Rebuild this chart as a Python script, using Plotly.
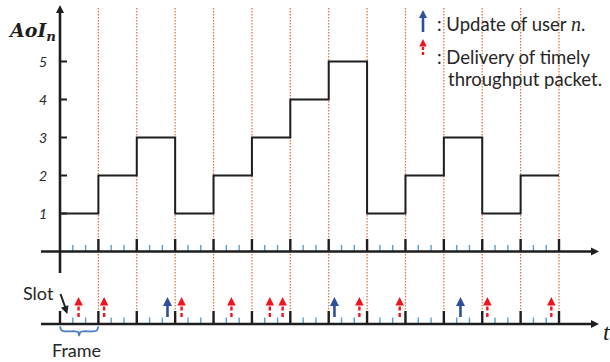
import plotly.graph_objects as go

# ---------------- data ----------------
aoi_per_frame = [1, 2, 3, 1, 2, 3, 4, 5, 1, 2, 3, 1, 2]      # AoI level in each frame
slots_per_frame = 3
update_slots = [8.4, 21.45, 31.3]                             # blue arrows (update of user n)
delivery_slots = [1.45, 3.45, 9.5, 13.4, 16.4, 17.4, 23.4, 26.55, 33.4, 38.4]  # red dashed arrows
y_tick_values = [1, 2, 3, 4, 5]
y_tick_labels = ["1", "2", "3", "4", "5"]

# ---------------- geometry helpers ----------------
W, H = 610, 362
X0_PX, SLOT_PX = 60.0, 12.795
Y0_PX, UNIT_PX = 251.5, 38.0


def sx(px):
    return (px - X0_PX) / SLOT_PX


def vy(py):
    return (Y0_PX - py) / UNIT_PX


n_frames = len(aoi_per_frame)
n_slots = n_frames * slots_per_frame
frame_edges = [k * slots_per_frame for k in range(n_frames + 1)]
LOW = vy(324)          # lower time axis
TXT = "#262626"
BLACK = "#1e1e1e"
RED = "#F0141E"
BLUE = "#2F4F9E"
TICKBLUE = "#5B9BD5"
ORANGE = "#E0703A"
FONT = "Lato"

fig = go.Figure()


def segs(pairs):
    xs, ys = [], []
    for (x1, y1), (x2, y2) in pairs:
        xs += [x1, x2, None]
        ys += [y1, y2, None]
    return xs, ys


# dotted frame boundaries
xs, ys = segs([((e, vy(8)), (e, LOW)) for e in frame_edges[1:]])
fig.add_trace(go.Scatter(x=xs, y=ys, mode="lines",
                         line=dict(color=ORANGE, width=1.2, dash="1.5px,1.5px"), hoverinfo="skip"))

# minor slot ticks (both axes)
minor = [s for s in range(1, n_slots) if s % slots_per_frame != 0]
pairs = []
for base in (0, LOW):
    pairs += [((s, base), (s, base + 6.5 / UNIT_PX)) for s in minor]
xs, ys = segs(pairs)
fig.add_trace(go.Scatter(x=xs, y=ys, mode="lines",
                         line=dict(color=TICKBLUE, width=1.4), hoverinfo="skip"))

# major frame ticks
pairs = [((e, 0), (e, 12.5 / UNIT_PX)) for e in frame_edges[1:]]
pairs += [((e, LOW), (e, LOW + 13 / UNIT_PX)) for e in frame_edges]
xs, ys = segs(pairs)
fig.add_trace(go.Scatter(x=xs, y=ys, mode="lines",
                         line=dict(color=BLACK, width=2.4), hoverinfo="skip"))

# y-axis ticks
pairs = [((0, v), (sx(67), v)) for v in y_tick_values]
xs, ys = segs(pairs)
fig.add_trace(go.Scatter(x=xs, y=ys, mode="lines",
                         line=dict(color=BLACK, width=2), hoverinfo="skip"))

# axes lines
xs, ys = segs([((0, vy(273)), (0, vy(11))),
               ((sx(41), 0), (sx(593), 0)),
               ((sx(41), LOW), (sx(593), LOW))])
fig.add_trace(go.Scatter(x=xs, y=ys, mode="lines",
                         line=dict(color=BLACK, width=2.6), hoverinfo="skip"))
fig.add_trace(go.Scatter(x=[0], y=[vy(5)], mode="markers",
                         marker=dict(symbol="arrow-up", size=8, color=BLACK, line=dict(width=0)),
                         hoverinfo="skip"))
fig.add_trace(go.Scatter(x=[sx(599), sx(599)], y=[0, LOW], mode="markers",
                         marker=dict(symbol="arrow-right", size=8, color=BLACK, line=dict(width=0)),
                         hoverinfo="skip"))

# AoI step curve
fig.add_trace(go.Scatter(x=frame_edges, y=aoi_per_frame + [aoi_per_frame[-1]],
                         mode="lines", line=dict(color=BLACK, width=2, shape="hv"),
                         hoverinfo="skip"))

# arrows on the lower axis
tip = LOW + (324 - 297) / UNIT_PX
head_base = LOW + (324 - 305) / UNIT_PX
tail = LOW + (324 - 317) / UNIT_PX

xs, ys = segs([((s, tail), (s, head_base + 0.02)) for s in delivery_slots])
fig.add_trace(go.Scatter(x=xs, y=ys, mode="lines",
                         line=dict(color=RED, width=2.4, dash="4px,2.5px"), hoverinfo="skip"))
fig.add_trace(go.Scatter(x=delivery_slots, y=[tip] * len(delivery_slots), mode="markers",
                         marker=dict(symbol="arrow-up", size=8.5, color=RED, line=dict(width=0)),
                         hoverinfo="skip"))

xs, ys = segs([((s, tail), (s, head_base + 0.02)) for s in update_slots])
fig.add_trace(go.Scatter(x=xs, y=ys, mode="lines",
                         line=dict(color=BLUE, width=2.6), hoverinfo="skip"))
fig.add_trace(go.Scatter(x=update_slots, y=[tip] * len(update_slots), mode="markers",
                         marker=dict(symbol="arrow-up", size=9, color=BLUE, line=dict(width=0)),
                         hoverinfo="skip"))

# legend arrows
lx = sx(423)
fig.add_trace(go.Scatter(x=[lx, lx], y=[vy(32), vy(17)], mode="lines",
                         line=dict(color=BLUE, width=2.6), hoverinfo="skip"))
fig.add_trace(go.Scatter(x=[lx], y=[vy(10)], mode="markers",
                         marker=dict(symbol="arrow-up", size=8, color=BLUE, line=dict(width=0)),
                         hoverinfo="skip"))
fig.add_trace(go.Scatter(x=[lx, lx], y=[vy(55), vy(46)], mode="lines",
                         line=dict(color=RED, width=2.4, dash="3px,2px"), hoverinfo="skip"))
fig.add_trace(go.Scatter(x=[lx], y=[vy(39)], mode="markers",
                         marker=dict(symbol="arrow-up", size=7.5, color=RED, line=dict(width=0)),
                         hoverinfo="skip"))

# pointer arrow for "Slot"
fig.add_trace(go.Scatter(x=[sx(60.5), sx(65.5)], y=[vy(294), vy(308)], mode="lines",
                         line=dict(color=BLACK, width=2), hoverinfo="skip"))
fig.add_trace(go.Scatter(x=[sx(67.3)], y=[vy(314)], mode="markers",
                         marker=dict(symbol="arrow-up", size=8, angle=161, color=BLACK,
                                     line=dict(width=0)),
                         hoverinfo="skip"))

# brace under the first frame
f0, f1 = frame_edges[0], frame_edges[1]
mid = (f0 + f1) / 2
bx = [f0, f0 + sx(61.5) - sx(60), f0 + sx(65) - sx(60), mid - (sx(64) - sx(60)),
      mid - (sx(61) - sx(60)), mid,
      mid + (sx(61) - sx(60)), mid + (sx(64) - sx(60)), f1 - (sx(65) - sx(60)),
      f1 - (sx(61.5) - sx(60)), f1]
by = [vy(326.5), vy(330.3), vy(331.3), vy(331.3), vy(332.2), vy(335.5),
      vy(332.2), vy(331.3), vy(331.3), vy(330.3), vy(326.5)]
fig.add_trace(go.Scatter(x=bx, y=by, mode="lines",
                         line=dict(color="#4A7EC2", width=1.8, shape="spline", smoothing=0.6),
                         hoverinfo="skip"))

# ---------------- text ----------------
ann = []


def px_ann(text, x, y, size, xanchor="center", family=FONT, color=TXT):
    ann.append(dict(text=text, x=x / W, y=1 - y / H, xref="paper", yref="paper",
                    xanchor=xanchor, yanchor="middle", showarrow=False,
                    font=dict(family=family, size=size, color=color)))


for v, lab in zip(y_tick_values, y_tick_labels):
    ann.append(dict(text="<i>" + lab + "</i>", x=sx(42.5), y=v, xref="x", yref="y",
                    xanchor="center", yanchor="middle", showarrow=False,
                    font=dict(family=FONT, size=14, color=TXT)))

px_ann("<b><i>AoI<sub>n</sub></i></b>", 6, 31, 19, xanchor="left", family="DejaVu Serif", color=BLACK)
px_ann(": Update of user <span style='font-family:Liberation Serif;font-size:20px'><i>n</i></span>.",
       435, 24, 18.5, xanchor="left")
px_ann(": Delivery of timely", 435, 57, 18.5, xanchor="left")
px_ann("throughput packet.", 445.5, 79, 18.5, xanchor="left")
px_ann("Slot", 38, 293, 18)
px_ann("Frame", 76, 350, 18)
px_ann("<i>t</i>", 601, 332, 24, xanchor="left", family="Liberation Serif", color=BLACK)

fig.update_layout(
    width=W, height=H, margin=dict(l=0, r=0, t=0, b=0),
    paper_bgcolor="white", plot_bgcolor="white", showlegend=False,
    xaxis=dict(visible=False, range=[sx(0), sx(W)], fixedrange=True),
    yaxis=dict(visible=False, range=[vy(H), vy(0)], fixedrange=True),
    annotations=ann,
)

fig.write_html("out.html")
